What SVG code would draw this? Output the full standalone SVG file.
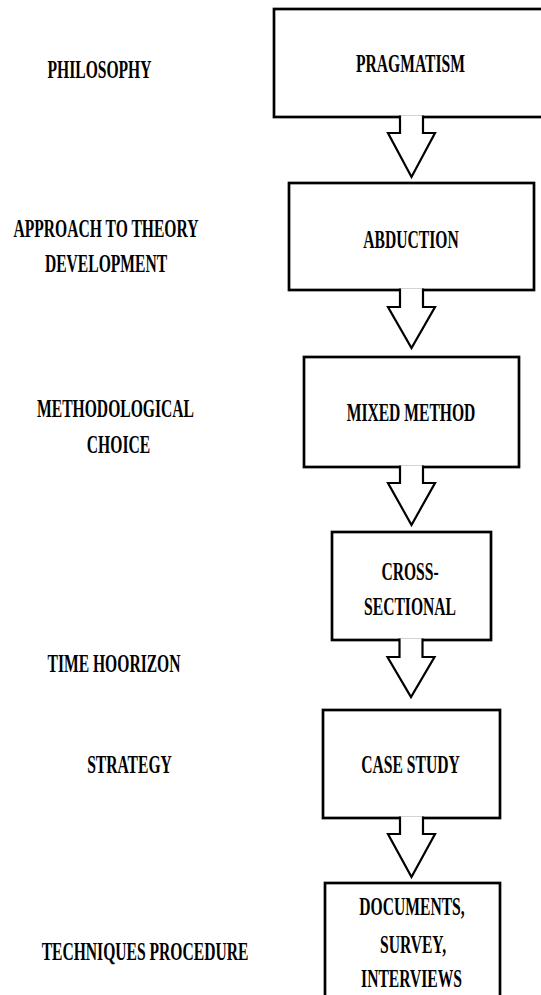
<svg xmlns="http://www.w3.org/2000/svg" width="541" height="995" viewBox="0 0 541 995">
  <style>
    .box { fill: #ffffff; stroke: #000000; stroke-width: 2.7; }
    .arrow { fill: #ffffff; stroke: #000000; stroke-width: 2.2; stroke-linejoin: miter; }
    text { font-family: "Liberation Serif", "Times New Roman", serif; font-weight: bold; font-size: 26px; fill: #000000; text-anchor: middle; }
  </style>
  <rect width="541" height="995" fill="#ffffff"/>

  <!-- level labels on the left (condensed bold serif) -->
  <g id="labels">
    <text transform="translate(99.5,78) scale(0.6,1)">PHILOSOPHY</text>
    <text transform="translate(106,237) scale(0.6,1)">APPROACH TO THEORY</text>
    <text transform="translate(106,272) scale(0.6,1)">DEVELOPMENT</text>
    <text transform="translate(115.5,417) scale(0.6,1)">METHODOLOGICAL</text>
    <text transform="translate(118.5,453) scale(0.6,1)">CHOICE</text>
    <text transform="translate(114,672) scale(0.6,1)">TIME HOORIZON</text>
    <text transform="translate(129.5,773) scale(0.6,1)">STRATEGY</text>
    <text transform="translate(145,960) scale(0.6,1)">TECHNIQUES PROCEDURE</text>
  </g>

  <!-- boxes -->
  <g id="pragmatism">
    <rect class="box" x="274" y="9" width="275" height="108"/>
    <text transform="translate(410.5,72) scale(0.6,1)">PRAGMATISM</text>
  </g>
  <g id="abduction">
    <rect class="box" x="289" y="183" width="245" height="107"/>
    <text transform="translate(411,248) scale(0.6,1)">ABDUCTION</text>
  </g>
  <g id="mixed-method">
    <rect class="box" x="304" y="357" width="215" height="110"/>
    <text transform="translate(411,421) scale(0.6,1)">MIXED METHOD</text>
  </g>
  <g id="cross-sectional">
    <rect class="box" x="332" y="532" width="159" height="108"/>
    <text transform="translate(410,580) scale(0.6,1)">CROSS-</text>
    <text transform="translate(410,615) scale(0.6,1)">SECTIONAL</text>
  </g>
  <g id="case-study">
    <rect class="box" x="323" y="710" width="177" height="108"/>
    <text transform="translate(410.5,773) scale(0.6,1)">CASE STUDY</text>
  </g>
  <g id="techniques">
    <rect class="box" x="325" y="883" width="175" height="130"/>
    <text transform="translate(412,915) scale(0.6,1)">DOCUMENTS,</text>
    <text transform="translate(413,953) scale(0.6,1)">SURVEY,</text>
    <text transform="translate(411.5,987) scale(0.6,1)">INTERVIEWS</text>
  </g>

  <!-- block arrows between levels -->
  <g id="connectors">
    <path class="arrow" d="M400,115.5 V133 H388 L411.5,177 L435,133 H423 V115.5"/>
    <path class="arrow" d="M400,288.5 V307 H388 L411.5,348 L435,307 H423 V288.5"/>
    <path class="arrow" d="M400,465.5 V483 H388 L411.5,525 L435,483 H423 V465.5"/>
    <path class="arrow" d="M399.5,638.5 V657 H387.5 L411,697 L434.5,657 H422.5 V638.5"/>
    <path class="arrow" d="M400,816.5 V834 H388 L411.5,877 L435,834 H423 V816.5"/>
  </g>
</svg>
